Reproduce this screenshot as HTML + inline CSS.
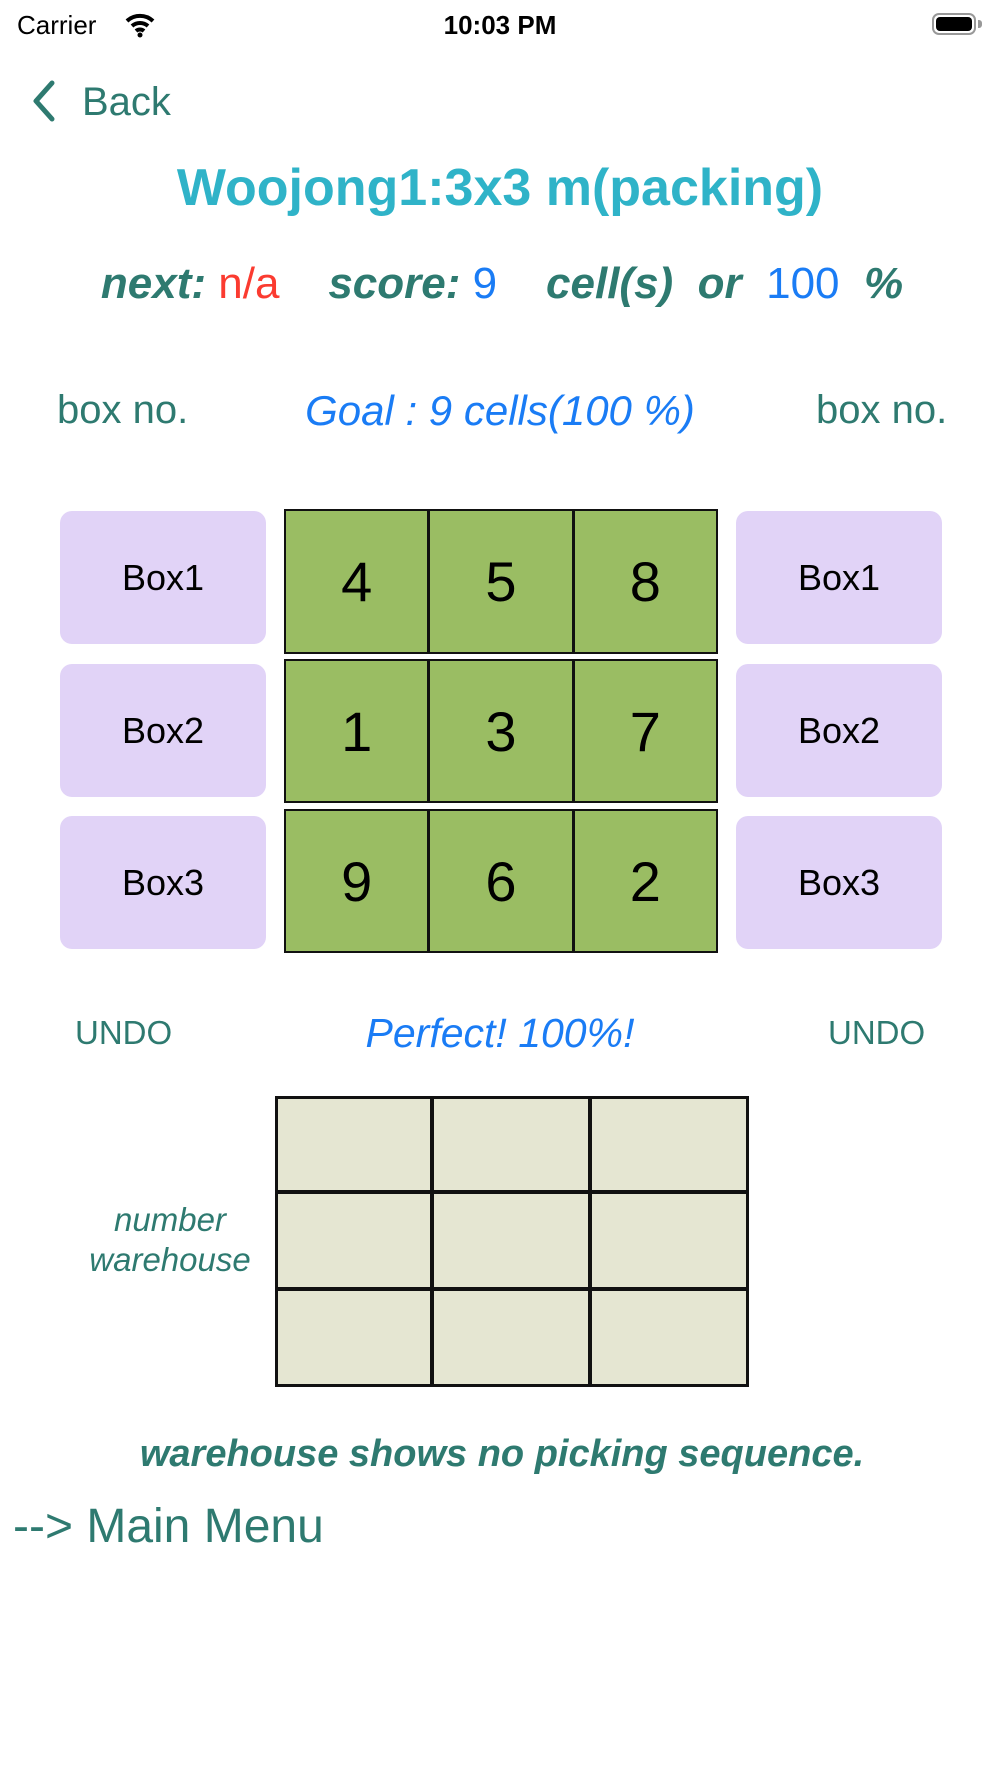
<!DOCTYPE html>
<html><head><meta charset="utf-8"><style>
body{margin:0;width:1000px;height:1778px;background:#fff;position:relative;font-family:"Liberation Sans",sans-serif;overflow:hidden}
.a{position:absolute;white-space:nowrap}
.t{color:#2e7a70}
.c{text-align:center;transform:translateX(-50%)}
.pb{position:absolute;background:#e1d3f7;border-radius:12px;display:flex;align-items:center;justify-content:center;font-size:36px;color:#000}
.g{position:absolute;left:284px;width:434px;background:#9abd63;border:2px solid #111;box-sizing:border-box;display:flex}
.g div{flex:1;display:flex;align-items:center;justify-content:center;font-size:56px;color:#000;border-left:3px solid #111}
.g div:first-child{border-left:none}
.u{font-style:normal}
</style></head><body>
<div class="a" style="left:17px;top:10px;font-size:26px">Carrier</div>
<svg class="a" style="left:125px;top:12px" width="30" height="26" viewBox="0 0 30 26"><path d="M2 9 A19 19 0 0 1 28 9" stroke="#000" stroke-width="4" fill="none"/><path d="M7 14 A12 12 0 0 1 23 14" stroke="#000" stroke-width="4" fill="none"/><path d="M11 19 A6 6 0 0 1 19 19" stroke="#000" stroke-width="4" fill="none"/><circle cx="15" cy="23" r="2.5"/></svg>
<div class="a c" style="left:500px;top:10px;font-size:26px;font-weight:bold">10:03 PM</div>
<div class="a" style="left:932px;top:13px;width:44px;height:22px;border:2px solid #999;border-radius:7px;box-sizing:border-box"><div style="margin:2px;height:14px;background:#000;border-radius:4px"></div></div>
<div class="a" style="left:978px;top:20px;width:4px;height:8px;background:#999;border-radius:0 3px 3px 0"></div>
<svg class="a" style="left:30px;top:80px" width="30" height="42"><path d="M22 3 L6 21 L22 39" stroke="#2e7a70" stroke-width="5" fill="none" stroke-linecap="round" stroke-linejoin="round"/></svg>
<div class="a t" style="left:82px;top:80px;font-size:40px">Back</div>
<div class="a c" style="left:500px;top:158px;font-size:52px;font-weight:bold;color:#2fb3c8">Woojong1:3x3 m(packing)</div>
<div class="a c" style="left:502px;top:259px;font-size:44px;font-style:italic"><b class="t">next:</b> <span class="u" style="color:#fb3b30">n/a</span>&nbsp;&nbsp;&nbsp; <b class="t">score:</b> <span class="u" style="color:#1a7cf5">9</span>&nbsp;&nbsp;&nbsp; <b class="t">cell(s)&nbsp; or</b>&nbsp; <span class="u" style="color:#1a7cf5">100</span>&nbsp; <b class="t">%</b></div>
<div class="a t" style="left:57px;top:388px;font-size:40px">box no.</div>
<div class="a t" style="left:816px;top:388px;font-size:40px">box no.</div>
<div class="a c" style="left:500px;top:387px;font-size:42px;font-style:italic;color:#1a7cf5">Goal : 9 cells(100 %)</div>
<div class="pb" style="left:60px;top:511px;width:206px;height:133px">Box1</div>
<div class="pb" style="left:60px;top:664px;width:206px;height:133px">Box2</div>
<div class="pb" style="left:60px;top:816px;width:206px;height:133px">Box3</div>
<div class="pb" style="left:736px;top:511px;width:206px;height:133px">Box1</div>
<div class="pb" style="left:736px;top:664px;width:206px;height:133px">Box2</div>
<div class="pb" style="left:736px;top:816px;width:206px;height:133px">Box3</div>
<div class="g" style="top:509px;height:145px"><div>4</div><div>5</div><div>8</div></div>
<div class="g" style="top:659px;height:144px"><div>1</div><div>3</div><div>7</div></div>
<div class="g" style="top:809px;height:144px"><div>9</div><div>6</div><div>2</div></div>
<div class="a t" style="left:75px;top:1014px;font-size:33px">UNDO</div>
<div class="a t" style="left:828px;top:1014px;font-size:33px">UNDO</div>
<div class="a c" style="left:500px;top:1010px;font-size:41px;font-style:italic;color:#1a7cf5">Perfect! 100%!</div>
<svg class="a" style="left:275px;top:1096px" width="474" height="291">
<rect x="1.5" y="1.5" width="471" height="288" fill="#e5e6d2" stroke="#111" stroke-width="3"/>
<path d="M157 0V291M315 0V291M0 96H474M0 193H474" stroke="#111" stroke-width="4"/>
</svg>
<div class="a t c" style="left:170px;top:1201px;font-size:33px;font-style:italic">number</div>
<div class="a t c" style="left:170px;top:1241px;font-size:33px;font-style:italic">warehouse</div>
<div class="a t c" style="left:502px;top:1433px;font-size:38px;font-style:italic;font-weight:bold">warehouse shows no picking sequence.</div>
<div class="a t" style="left:13px;top:1499px;font-size:48px">--&gt; Main Menu</div>
</body></html>
